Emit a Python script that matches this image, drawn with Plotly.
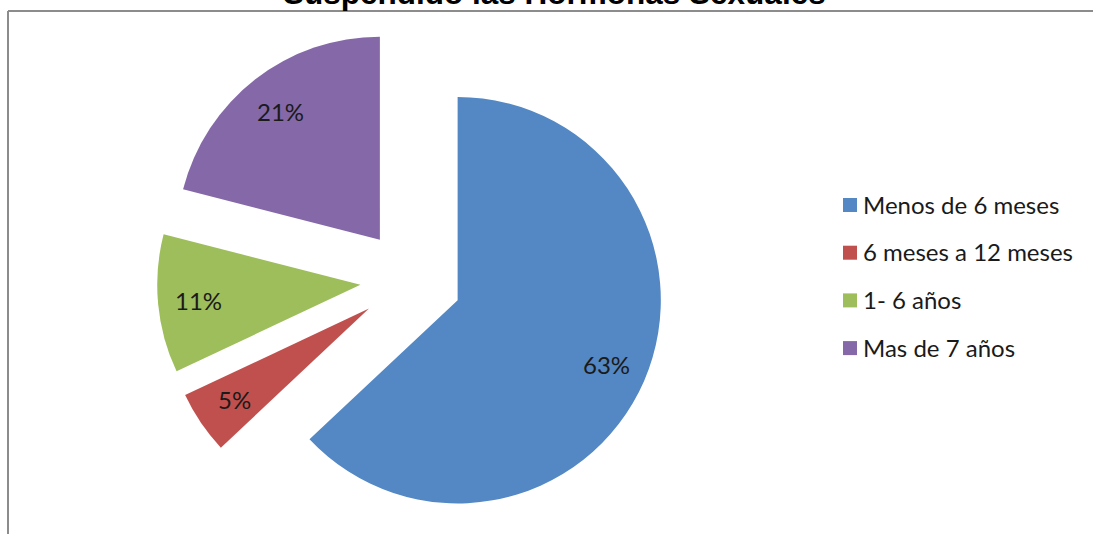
import math
import plotly.graph_objects as go

# Datos del gráfico
categorias = ["Menos de 6 meses", "6 meses a 12 meses", "1- 6 años", "Mas de 7 años"]
porcentajes = [63, 5, 11, 21]
colores = ["#5388C4", "#C0504D", "#9DBE5B", "#8568A8"]
titulo = "Suspendido las Hormonas Sexuales"

W, H = 1093, 534
PULL = 0.25            # separación de cada porción (fracción del radio)
CX, CY = 411, 280      # centro del pastel en píxeles
R_BOX = 254            # medio lado del dominio del pastel
R = R_BOX / (1 + PULL) # radio real que usa plotly


def px_x(x):
    return x / W


def px_y(y):
    return 1 - y / H


fig = go.Figure(
    go.Pie(
        labels=categorias,
        values=porcentajes,
        sort=False,
        direction="clockwise",
        rotation=0,
        pull=[PULL] * len(porcentajes),
        marker=dict(colors=colores, line=dict(width=0)),
        textinfo="none",
        hoverinfo="label+percent",
        showlegend=False,
        domain=dict(
            x=[px_x(CX - 300), px_x(CX + 300)],
            y=[px_y(CY + R_BOX), px_y(CY - R_BOX)],
        ),
    )
)

annotations = []
shapes = []

# Etiquetas de porcentaje dentro de cada porción
total = sum(porcentajes)
acum = 0
for v in porcentajes:
    mid = (acum + v / 2) / total * 2 * math.pi
    acum += v
    d = PULL * R + 0.80 * R
    lx = CX + d * math.sin(mid)
    ly = CY - d * math.cos(mid)
    annotations.append(dict(
        x=px_x(lx), y=px_y(ly), xref="paper", yref="paper",
        text=f"{round(v / total * 100)}%", showarrow=False,
        xanchor="center", yanchor="middle",
        font=dict(family="Lato", size=24, color="#1a1a1a"),
    ))

# Leyenda
LEG_X, LEG_Y0, LEG_DY, SQ = 843, 204, 47.7, 14
for i, (cat, col) in enumerate(zip(categorias, colores)):
    yc = LEG_Y0 + i * LEG_DY
    shapes.append(dict(
        type="rect", xref="paper", yref="paper",
        x0=px_x(LEG_X), x1=px_x(LEG_X + SQ),
        y0=px_y(yc + 1 + SQ / 2), y1=px_y(yc + 1 - SQ / 2),
        fillcolor=col, line=dict(width=0),
    ))
    annotations.append(dict(
        x=px_x(LEG_X + SQ + 4), y=px_y(yc), xref="paper", yref="paper",
        text=cat, showarrow=False, xanchor="left", yanchor="middle",
        font=dict(family="Lato", size=24, color="#1a1a1a"),
    ))

# Título (queda parcialmente fuera del borde superior)
annotations.append(dict(
    x=px_x(554), y=px_y(13), xref="paper", yref="paper",
    text=f"<b>{titulo}</b>", showarrow=False,
    xanchor="center", yanchor="bottom",
    font=dict(family="Liberation Sans, Arial", size=31.5, color="#000000"),
))

# Marco del área del gráfico
frame = dict(color="#8c8c8c", width=2)
shapes.append(dict(type="line", xref="paper", yref="paper",
                   x0=px_x(8), x1=px_x(8), y0=0, y1=px_y(11), line=frame))
shapes.append(dict(type="line", xref="paper", yref="paper",
                   x0=px_x(8), x1=1, y0=px_y(11), y1=px_y(11), line=frame))

fig.update_layout(
    width=W, height=H,
    margin=dict(l=0, r=0, t=0, b=0),
    paper_bgcolor="white",
    plot_bgcolor="white",
    annotations=annotations,
    shapes=shapes,
)

fig.write_html("out.html")
